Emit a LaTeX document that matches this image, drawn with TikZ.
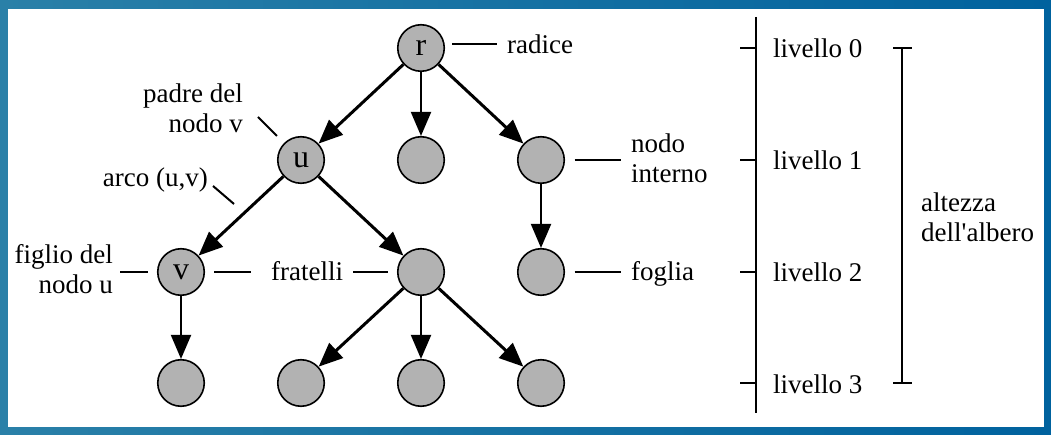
\documentclass[tikz,border=0pt]{standalone}
\usepackage{fontspec}
\setmainfont{Liberation Serif}
% face without TeX ligature mapping, for the straight apostrophe
\newfontface\plainrm{Liberation Serif}
\usetikzlibrary{arrows.meta}
\definecolor{frameblueL}{RGB}{42,128,168}
\definecolor{frameblueR}{RGB}{0,98,158}
\definecolor{nodegray}{RGB}{178,178,178}

\begin{document}
\begin{tikzpicture}[x=1pt,y=-1pt,
  txt/.style={font=\fontsize{27}{30}\selectfont},
  vertex/.style={circle,draw=black,line width=1.6pt,fill=nodegray,
    minimum size=46.5pt,inner sep=0pt,font=\fontsize{32}{34}\selectfont},
  lbl/.style={inner sep=0pt,txt},
  tip/.style={-{Triangle[length=24pt,width=20pt]}},
  edgethick/.style={line width=3pt,tip},
  edgethin/.style={line width=2pt,tip},
  leader/.style={line width=2pt},
  ruler/.style={line width=2pt}]

% frame
\fill[left color=frameblueL,right color=frameblueR] (0,0) rectangle (1051,435);
\fill[white] (8,9) rectangle (1044,427);
\useasboundingbox (0,0) rectangle (1051,435);

% tree nodes
\node[vertex] (r)  at (421,48)  {r};
\node[vertex] (u)  at (301,160) {u};
\node[vertex] (m1) at (421,160) {};
\node[vertex] (n1) at (541,160) {};
\node[vertex] (v)  at (181,272) {v};
\node[vertex] (s1) at (421,272) {};
\node[vertex] (f1) at (541,272) {};
\node[vertex] (a3) at (181,383) {};
\node[vertex] (b3) at (301,383) {};
\node[vertex] (c3) at (421,383) {};
\node[vertex] (d3) at (541,383) {};

% edges
\draw[edgethick] (r) -- (u);
\draw[edgethin]  (r) -- (m1);
\draw[edgethick] (r) -- (n1);
\draw[edgethick] (u) -- (v);
\draw[edgethick] (u) -- (s1);
\draw[edgethin]  (n1) -- (f1);
\draw[edgethin]  (v) -- (a3);
\draw[edgethick] (s1) -- (b3);
\draw[edgethin]  (s1) -- (c3);
\draw[edgethick] (s1) -- (d3);
\path (u) -- (v) coordinate[pos=0.5] (uvmid);

% labels
\node[lbl,anchor=base west] (radice) at (507,54) {radice};
\node[lbl,anchor=east,align=right] (padre) at (243,108) {padre del\\nodo v};
\node[lbl,anchor=base east] (arco) at (208,187) {arco (u,v)};
\node[lbl,anchor=west,align=left] (interno) at (631,158) {nodo\\interno};
\node[lbl,anchor=east,align=right] (figlio) at (113,269) {figlio del\\nodo u};
\node[lbl,anchor=base west] (fratelli) at (271,280) {fratelli};
\node[lbl,anchor=base west] (foglia) at (631,280) {foglia};

% leader lines
\draw[leader] ([shift={(7,-4)}]r.east) -- ++(45,0);
\draw[leader] ([shift={(-7,-7)}]u.north west) -- ++(-19,-19);
\draw[leader] ([shift={(-7,-12)}]uvmid) -- ++(-21,-18);
\draw[leader] ([xshift=-9pt]v.west) -- ++(-28,0);
\draw[leader] ([xshift=9pt]v.east) -- ++(37,0);
\draw[leader] ([xshift=-9pt]s1.west) -- ++(-35,0);
\draw[leader] ([xshift=9.5pt]n1.east) -- ++(46,0);
\draw[leader] ([xshift=9.5pt]f1.east) -- ++(46,0);

% level ruler
\coordinate (rtop) at (756,17);
\coordinate (rbot) at (756,413);
\draw[ruler] (rtop) -- (rbot);
\foreach \k/\y in {0/48,1/160,2/272,3/383}{
  \coordinate (L\k) at (756,\y);
  \draw[ruler] (L\k) -- ++(-16,0);
  \node[lbl,anchor=base west] (liv\k) at (773,\y+10) {livello \k};
}

% height bracket
\coordinate (htop) at (902,48);
\coordinate (hbot) at (902,383);
\draw[ruler] (htop) -- (hbot);
\draw[ruler] ([xshift=-9pt]htop) -- ([xshift=10pt]htop);
\draw[ruler] ([xshift=-9pt]hbot) -- ([xshift=10pt]hbot);
\node[lbl,anchor=west,align=left] (altezza) at (921,217) {altezza\\dell{\plainrm '}albero};
\end{tikzpicture}
\end{document}
